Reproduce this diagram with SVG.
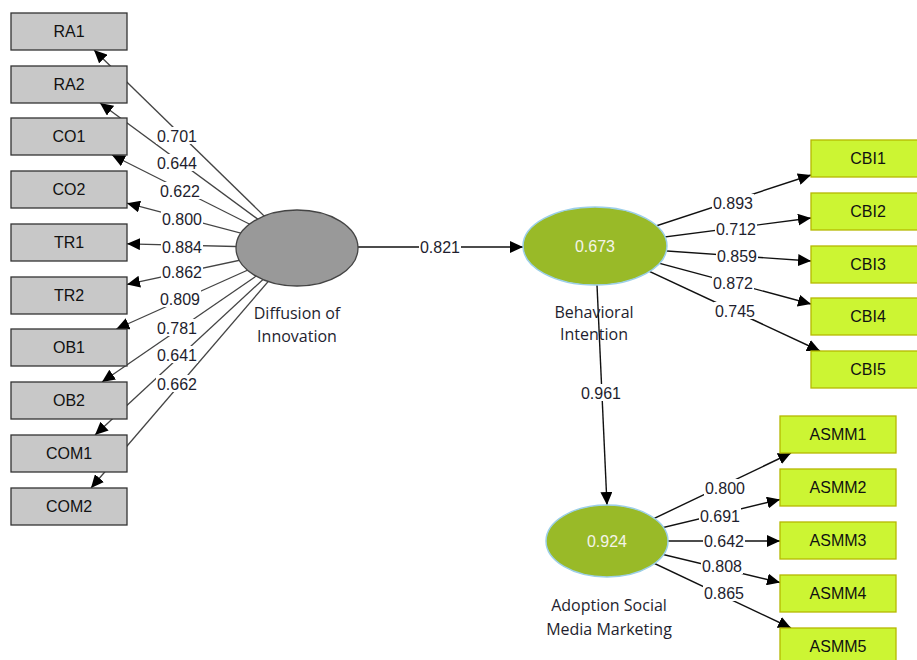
<svg xmlns="http://www.w3.org/2000/svg" width="917" height="660" viewBox="0 0 917 660">
<style>
text{font-family:"Liberation Sans",Arial,sans-serif;fill:#1e1e2e;}
.lbl{font-size:16px;text-anchor:middle;}
.box{font-size:16px;text-anchor:middle;fill:#111;}
.lat{font-family:"Open Sans","DejaVu Sans",sans-serif;font-size:16px;text-anchor:middle;}
.r2{font-size:16px;text-anchor:middle;fill:#f4f4e8;}
.gbox{fill:#c8c8c8;stroke:#333;stroke-width:1.3;}
.ybox{fill:#ccf533;stroke:#b5b800;stroke-width:1.3;}
.ll{stroke:#444;stroke-width:1.3;fill:none;marker-end:url(#ah);}
.rl{stroke:#111;stroke-width:1.4;fill:none;marker-end:url(#ah);}
.bg{fill:#fff;}
</style>
<defs>
<marker id="ah" markerUnits="userSpaceOnUse" markerWidth="13" markerHeight="12" refX="13" refY="6" orient="auto">
<path d="M0,0 L13,6 L0,12 z" fill="#000"/>
</marker>
</defs>
<rect width="917" height="660" fill="#fff"/>
<g id="connectors">
<path class="ll" d="M297,248 L94,50"/>
<path class="ll" d="M297,248 L100,103"/>
<path class="ll" d="M297,248 L112,155"/>
<path class="ll" d="M297,248 L127,203.2"/>
<path class="ll" d="M297,248 L127,243.8"/>
<path class="ll" d="M297,248 L127,284.4"/>
<path class="ll" d="M297,248 L116.3,329"/>
<path class="ll" d="M297,248 L102,382"/>
<path class="ll" d="M297,248 L95,435"/>
<path class="ll" d="M297,248 L91,488"/>
<path class="rl" d="M358,247 L523,247"/>
<path class="rl" d="M595,246 L811,175"/>
<path class="rl" d="M595,246 L811,218"/>
<path class="rl" d="M595,246 L811,261"/>
<path class="rl" d="M595,246 L811,304"/>
<path class="rl" d="M595,246 L820,351"/>
<path class="rl" d="M597,285 L607,505"/>
<path class="rl" d="M607,541 L791,453"/>
<path class="rl" d="M607,541 L780,499.5"/>
<path class="rl" d="M607,541 L780,541"/>
<path class="rl" d="M607,541 L780,582.5"/>
<path class="rl" d="M607,541 L791,628"/>
</g>
<g id="labels">
<rect class="bg" x="156" y="127" width="42" height="17"/><text class="lbl" x="177" y="142">0.701</text>
<rect class="bg" x="156" y="154" width="42" height="17"/><text class="lbl" x="177" y="169">0.644</text>
<rect class="bg" x="159" y="182" width="42" height="17"/><text class="lbl" x="180" y="197">0.622</text>
<rect class="bg" x="161" y="210" width="42" height="17"/><text class="lbl" x="182" y="225">0.800</text>
<rect class="bg" x="161" y="238" width="42" height="17"/><text class="lbl" x="182" y="253">0.884</text>
<rect class="bg" x="161" y="263" width="42" height="17"/><text class="lbl" x="182" y="278">0.862</text>
<rect class="bg" x="159" y="290" width="42" height="17"/><text class="lbl" x="180" y="305">0.809</text>
<rect class="bg" x="156" y="319" width="42" height="17"/><text class="lbl" x="177" y="334">0.781</text>
<rect class="bg" x="156" y="346" width="42" height="17"/><text class="lbl" x="177" y="361">0.641</text>
<rect class="bg" x="156" y="375" width="42" height="17"/><text class="lbl" x="177" y="390">0.662</text>
<rect class="bg" x="419" y="238" width="42" height="17"/><text class="lbl" x="440" y="253">0.821</text>
<rect class="bg" x="712" y="194" width="42" height="17"/><text class="lbl" x="733" y="209">0.893</text>
<rect class="bg" x="715" y="220" width="42" height="17"/><text class="lbl" x="736" y="235">0.712</text>
<rect class="bg" x="716" y="247" width="42" height="17"/><text class="lbl" x="737" y="262">0.859</text>
<rect class="bg" x="712" y="274" width="42" height="17"/><text class="lbl" x="733" y="289">0.872</text>
<rect class="bg" x="714" y="302" width="42" height="17"/><text class="lbl" x="735" y="317">0.745</text>
<rect class="bg" x="580" y="384" width="42" height="17"/><text class="lbl" x="601" y="399">0.961</text>
<rect class="bg" x="704" y="479" width="42" height="17"/><text class="lbl" x="725" y="494">0.800</text>
<rect class="bg" x="699" y="507" width="42" height="17"/><text class="lbl" x="720" y="522">0.691</text>
<rect class="bg" x="703" y="532" width="42" height="17"/><text class="lbl" x="724" y="547">0.642</text>
<rect class="bg" x="701" y="557" width="42" height="17"/><text class="lbl" x="722" y="572">0.808</text>
<rect class="bg" x="703" y="584" width="42" height="17"/><text class="lbl" x="724" y="599">0.865</text>
</g>
<g id="RA1"><rect class="gbox" x="11" y="13" width="116" height="37"/><text class="box" x="69" y="37">RA1</text></g>
<g id="RA2"><rect class="gbox" x="11" y="66" width="116" height="37"/><text class="box" x="69" y="90">RA2</text></g>
<g id="CO1"><rect class="gbox" x="11" y="118" width="116" height="37"/><text class="box" x="69" y="142">CO1</text></g>
<g id="CO2"><rect class="gbox" x="11" y="171" width="116" height="37"/><text class="box" x="69" y="195">CO2</text></g>
<g id="TR1"><rect class="gbox" x="11" y="224" width="116" height="37"/><text class="box" x="69" y="248">TR1</text></g>
<g id="TR2"><rect class="gbox" x="11" y="277" width="116" height="37"/><text class="box" x="69" y="301">TR2</text></g>
<g id="OB1"><rect class="gbox" x="11" y="329" width="116" height="37"/><text class="box" x="69" y="353">OB1</text></g>
<g id="OB2"><rect class="gbox" x="11" y="382" width="116" height="37"/><text class="box" x="69" y="406">OB2</text></g>
<g id="COM1"><rect class="gbox" x="11" y="435" width="116" height="37"/><text class="box" x="69" y="459">COM1</text></g>
<g id="COM2"><rect class="gbox" x="11" y="488" width="116" height="37"/><text class="box" x="69" y="512">COM2</text></g>
<g id="DiffusionOfInnovation">
<ellipse cx="297" cy="248" rx="61" ry="38" fill="#999" stroke="#444" stroke-width="1.3"/>
<text class="lat" x="297" y="319">Diffusion of</text>
<text class="lat" x="297" y="342">Innovation</text>
</g>
<g id="BehavioralIntention">
<ellipse cx="595" cy="246" rx="72" ry="39" fill="#99ba28" stroke="#9ccfe8" stroke-width="1.5"/>
<text class="r2" x="595" y="252">0.673</text>
<text class="lat" x="594" y="318">Behavioral</text>
<text class="lat" x="594" y="340">Intention</text>
</g>
<g id="AdoptionSocialMediaMarketing">
<ellipse cx="607" cy="541" rx="61" ry="36" fill="#99ba28" stroke="#9ccfe8" stroke-width="1.5"/>
<text class="r2" x="607" y="547">0.924</text>
<text class="lat" x="609" y="611">Adoption Social</text>
<text class="lat" x="609" y="635">Media Marketing</text>
</g>
<g id="CBI1"><rect class="ybox" x="811" y="140" width="112" height="37"/><text class="box" x="868" y="164">CBI1</text></g>
<g id="CBI2"><rect class="ybox" x="811" y="193" width="112" height="37"/><text class="box" x="868" y="217">CBI2</text></g>
<g id="CBI3"><rect class="ybox" x="811" y="246" width="112" height="37"/><text class="box" x="868" y="270">CBI3</text></g>
<g id="CBI4"><rect class="ybox" x="811" y="298" width="112" height="37"/><text class="box" x="868" y="322">CBI4</text></g>
<g id="CBI5"><rect class="ybox" x="811" y="351" width="112" height="37"/><text class="box" x="868" y="375">CBI5</text></g>
<g id="ASMM1"><rect class="ybox" x="780" y="416" width="116" height="37"/><text class="box" x="838" y="440">ASMM1</text></g>
<g id="ASMM2"><rect class="ybox" x="780" y="469" width="116" height="37"/><text class="box" x="838" y="493">ASMM2</text></g>
<g id="ASMM3"><rect class="ybox" x="780" y="522" width="116" height="37"/><text class="box" x="838" y="546">ASMM3</text></g>
<g id="ASMM4"><rect class="ybox" x="780" y="575" width="116" height="37"/><text class="box" x="838" y="599">ASMM4</text></g>
<g id="ASMM5"><rect class="ybox" x="780" y="628" width="116" height="37"/><text class="box" x="838" y="652">ASMM5</text></g>
</svg>
